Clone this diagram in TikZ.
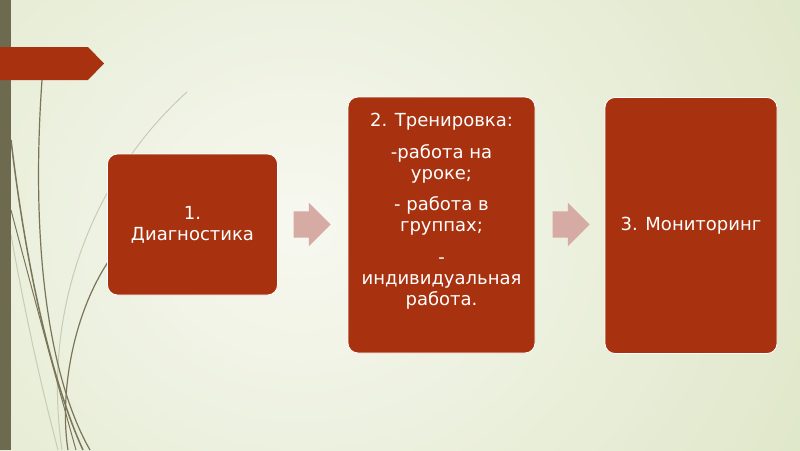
\documentclass[tikz,border=0pt]{standalone}
\usepackage{fontspec}
\setmainfont{DejaVu Sans}
\usetikzlibrary{shapes.arrows,positioning}

\definecolor{slidered}{HTML}{A8320F}
\definecolor{barolive}{HTML}{6E6A50}
\definecolor{stemline}{HTML}{7A7458}
\definecolor{palestem}{HTML}{C8CCB2}
\definecolor{arrowpink}{HTML}{D5ABA3}
\definecolor{bgedge}{HTML}{DCE5C4}
\definecolor{bgmid}{HTML}{F7F8F0}

\tikzset{
  stepbox/.style={draw=white, line width=0.8pt, fill=slidered, rounded corners=10pt,
    text=white, inner sep=0pt, align=center, font=\fontsize{18}{21}\selectfont},
  steptext/.style={text=white, inner sep=0pt, align=center, font=\fontsize{18}{21}\selectfont},
  flowarrow/.style={single arrow, fill=arrowpink, draw=none, inner xsep=0pt, inner ysep=13pt,
    minimum height=37pt, single arrow head extend=8.5pt},
}

\begin{document}
\begin{tikzpicture}[x=1pt,y=-1pt]
  \useasboundingbox (0,0) rectangle (800,450);
  % background
  \begin{scope}
    \clip (0,0) rectangle (800,450);
    \shade[inner color=bgmid, outer color=bgedge] (-350,-350) rectangle (950,800);
  \end{scope}

  % stems
  \draw[palestem, line width=1pt] (187,92) .. controls (100,170) and (40,300) .. (62,450);
  \draw[palestem, line width=1pt] (11,235) .. controls (30,340) and (45,400) .. (58,450);
  \draw[stemline, line width=1.2pt] (42,80) .. controls (30,250) and (50,380) .. (90,450);
  \draw[stemline, line width=1.5pt] (11,140) .. controls (30,300) and (60,400) .. (83,450);
  \draw[stemline, line width=1pt] (11,210) .. controls (40,320) and (62,400) .. (76,450);
  \draw[stemline, line width=1.2pt] (108,262) .. controls (70,320) and (60,400) .. (68,450);

  % left bar and banner
  \fill[barolive] (0,0) rectangle (11,450);
  \fill[slidered] (0,47) -- (88,47) -- (104,63.5) -- (88,80) -- (0,80) -- cycle;

  % steps
  \node[stepbox, minimum width=170pt, minimum height=141pt] (diag) at (192.5,224.5) {1.\\Диагностика};
  \node[stepbox, minimum width=187pt, minimum height=256pt] (trening) at (441.5,225) {};
  \node[steptext, anchor=north] (trentext) at (441.5,113)
    {2. Тренировка:\\[11pt]-работа на\\уроке;\\[10pt]- работа в\\группах;\\[11pt]-\\индивидуальная\\работа.};
  \node[stepbox, minimum width=172pt, minimum height=256pt] (monitor) at (691,225.5) {3. Мониторинг};

  % arrows
  \node[flowarrow] (arrA) at (305.5,224.5) {};
  \node[flowarrow] (arrB) at (564.5,224.5) {};
\end{tikzpicture}
\end{document}
